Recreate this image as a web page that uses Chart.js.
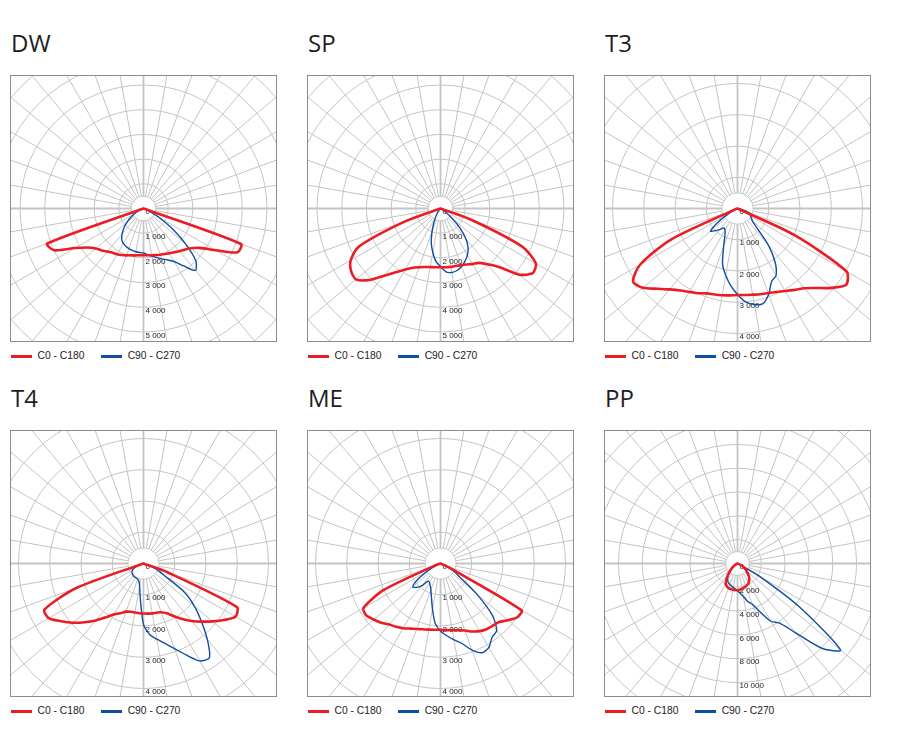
<!DOCTYPE html>
<html>
<head>
<meta charset="utf-8">
<script src="https://cdn.jsdelivr.net/npm/chart.js@4.4.1/dist/chart.umd.min.js"></script>
<style>
  html, body { margin: 0; padding: 0; background: #fff; }
  body { width: 905px; height: 754px; position: relative; overflow: hidden; font-family: "Liberation Sans", Arial, sans-serif; }
  .panel { position: absolute; width: 290px; height: 370px; }
  .title { position: absolute; left: 1px; top: 31px; font: 24px/24px "Open Sans", sans-serif; color: #1e1e1e; }
  .box { position: absolute; left: 0; top: 75px; width: 267px; height: 267px; box-sizing: border-box; border: 1px solid #8c8c8c; }
  .box canvas { display: block; }
  .key { position: absolute; top: 349px; height: 14px; font-size: 10.3px; line-height: 14px; color: #222; white-space: nowrap; }
  .key i { position: absolute; left: 0; top: 5.5px; width: 21px; height: 3px; }
  .key span { position: absolute; left: 27px; top: 0; }
</style>
</head>
<body>
<script>
// gamma angles (deg from nadir) of the stored half-curves; above 90 deg the intensity is 0
const gamma = [0, 5, 10, 15, 20, 25, 30, 35, 40, 45, 50, 55, 60, 65, 70, 75, 80, 85, 90];

// cd values, left half (C180 / C270) and right half (C0 / C90)
const dwC180 = [1890, 1900, 1930, 1960, 2020, 2080, 2140, 2190, 2280, 2400, 2520, 2750, 3200, 4000, 4150, 0, 0, 0, 0];
const dwC0   = [1890, 1900, 1920, 1950, 1990, 2030, 2090, 2160, 2260, 2360, 2500, 2780, 3380, 4200, 4200, 0, 0, 0, 0];
const dwC270 = [1800, 1790, 1780, 1760, 1730, 1690, 1630, 1540, 1350, 1130, 880, 650, 420, 250, 120, 40, 0, 0, 0];
const dwC90  = [1800, 1880, 1960, 2060, 2170, 2300, 2480, 2840, 3270, 3000, 2200, 1400, 750, 300, 100, 20, 0, 0, 0];

const spC180 = [2380, 2390, 2410, 2450, 2530, 2650, 2850, 3150, 3550, 4100, 4470, 4420, 4200, 3650, 1500, 0, 0, 0, 0];
const spC0   = [2380, 2390, 2400, 2410, 2440, 2500, 2600, 2690, 2950, 3350, 4170, 4560, 4460, 3650, 1300, 0, 0, 0, 0];
const spC270 = [2350, 2150, 1800, 1450, 1000, 650, 380, 200, 90, 30, 0, 0, 0, 0, 0, 0, 0, 0, 0];
const spC90  = [2350, 2580, 2630, 2600, 2500, 2350, 2180, 1950, 1600, 1100, 600, 250, 80, 0, 0, 0, 0, 0, 0];

const t3C180 = [2770, 2790, 2820, 2850, 2890, 2990, 3080, 3200, 3380, 3630, 3950, 4080, 3600, 2350, 100, 0, 0, 0, 0];
const t3C0   = [2770, 2780, 2800, 2840, 2880, 2950, 3050, 3180, 3330, 3600, 3950, 4250, 4030, 2000, 0, 0, 0, 0, 0];
const t3C270 = [2750, 2480, 2170, 1850, 1300, 950, 800, 760, 880, 1000, 1130, 750, 300, 50, 0, 0, 0, 0, 0];
const t3C90  = [2750, 3000, 3120, 3150, 2920, 2580, 2470, 2100, 1550, 880, 620, 550, 480, 440, 400, 200, 80, 0, 0];

const t4C180 = [1600, 1600, 1590, 1600, 1640, 1760, 1880, 2100, 2380, 2660, 2950, 3220, 3500, 3500, 2270, 50, 0, 0, 0];
const t4C0   = [1600, 1610, 1620, 1630, 1660, 1760, 1950, 2170, 2400, 2630, 2880, 3150, 3400, 3300, 800, 0, 0, 0, 0];
const t4C270 = [1950, 1150, 720, 580, 540, 520, 515, 515, 510, 490, 470, 450, 400, 300, 150, 0, 0, 0, 0];
const t4C90  = [1950, 2280, 2460, 2650, 2900, 3230, 3600, 3680, 3180, 2620, 2130, 1600, 780, 500, 200, 0, 0, 0, 0];

const meC180 = [2120, 2130, 2150, 2180, 2230, 2300, 2390, 2470, 2550, 2680, 2790, 2900, 2850, 2000, 200, 0, 0, 0, 0];
const meC0   = [2120, 2140, 2170, 2210, 2280, 2400, 2500, 2570, 2600, 2650, 2820, 3000, 3000, 300, 0, 0, 0, 0, 0];
const meC270 = [2160, 1930, 1480, 1120, 900, 780, 700, 690, 920, 1080, 1160, 880, 450, 150, 0, 0, 0, 0, 0];
const meC90  = [2160, 2320, 2480, 2650, 2950, 3150, 3100, 2880, 2800, 2350, 1500, 750, 490, 250, 80, 0, 0, 0, 0];

const ppC180 = [2250, 2240, 2230, 2220, 2200, 2120, 1980, 1620, 1250, 900, 650, 420, 250, 120, 50, 0, 0, 0, 0];
const ppC0   = [2250, 2220, 2170, 2100, 2030, 1970, 1880, 1700, 1520, 1250, 1000, 820, 550, 300, 100, 0, 0, 0, 0];
const ppC270 = [2300, 2150, 2050, 1950, 1880, 1800, 1650, 1450, 1100, 750, 450, 250, 100, 0, 0, 0, 0, 0, 0];
const ppC90  = [2300, 2500, 2800, 3300, 3650, 4500, 5600, 6100, 7600, 10100, 11300, 6300, 2000, 200, 0, 0, 0, 0, 0];

// tick labels down the nadir axis
const ticks5000 = [0, 1000, 2000, 3000, 4000, 5000];
const ticks4000 = [0, 1000, 2000, 3000, 4000];
const ticks10000 = [0, 2000, 4000, 6000, 8000, 10000];

const seriesNames = ['C0 - C180', 'C90 - C270'];

const RED = '#ec1c24';
const BLUE = '#0d4ea3';
const GRID = '#c4c4c4';

const panels = [
  { title: 'DW', red: [dwC180, dwC0], blue: [dwC270, dwC90], ticks: ticks5000, step: 1000, max: 8100 },
  { title: 'SP', red: [spC180, spC0], blue: [spC270, spC90], ticks: ticks5000, step: 1000, max: 8100 },
  { title: 'T3', red: [t3C180, t3C0], blue: [t3C270, t3C90], ticks: ticks4000, step: 1000, max: 6400 },
  { title: 'T4', red: [t4C180, t4C0], blue: [t4C270, t4C90], ticks: ticks4000, step: 1000, max: 6400 },
  { title: 'ME', red: [meC180, meC0], blue: [meC270, meC90], ticks: ticks4000, step: 1000, max: 6400 },
  { title: 'PP', red: [ppC180, ppC0], blue: [ppC270, ppC90], ticks: ticks10000, step: 2000, max: 16800 }
];

// one radar category every 5 degrees, index 0 = nadir
const radarLabels = [];
for (let a = 0; a < 360; a += 5) radarLabels.push(a + '°');

function fullCircle(left, right) {
  let values = radarLabels.map(() => 0);
  gamma.forEach((g, i) => {
    values[i] = left[i];
    if (i > 0) values[radarLabels.length - i] = right[i];
  });
  return values;
}

function fmt(v) {
  return String(v).replace(/\B(?=(\d{3})+(?!\d))/g, ' ');
}

// white hole in the middle + tick labels under the curves
function centerAndLabels(p) {
  return {
    id: 'centerAndLabels',
    beforeDatasetsDraw(chart) {
      const r = chart.scales.r;
      const ctx = chart.ctx;
      ctx.save();
      ctx.fillStyle = '#fff';
      ctx.beginPath();
      ctx.arc(r.xCenter, r.yCenter, r.getDistanceFromCenterForValue(p.step / 2) - 0.6, 0, Math.PI * 2);
      ctx.fill();
      ctx.fillStyle = '#222';
      ctx.font = '8px "Liberation Sans", Arial, sans-serif';
      ctx.textAlign = 'left';
      ctx.textBaseline = 'middle';
      p.ticks.forEach(v => {
        ctx.fillText(fmt(v), r.xCenter + 2, r.yCenter + r.getDistanceFromCenterForValue(v) + 3.5);
      });
      ctx.restore();
    }
  };
}

panels.forEach((p, n) => {
  let col = n % 3, row = Math.floor(n / 3);
  let panel = document.createElement('div');
  panel.className = 'panel';
  panel.style.left = (10 + 297 * col) + 'px';
  panel.style.top = (355 * row) + 'px';
  panel.innerHTML =
    '<div class="title">' + p.title + '</div>' +
    '<div class="box"><canvas width="265" height="265"></canvas></div>' +
    '<div class="key" style="left:0.5px"><i style="background:' + RED + '"></i><span>' + seriesNames[0] + '</span></div>' +
    '<div class="key" style="left:90.7px"><i style="background:' + BLUE + '"></i><span>' + seriesNames[1] + '</span></div>';
  document.body.appendChild(panel);

  let rings = [0, p.step / 2];
  for (let v = p.step; v <= p.max; v += p.step) rings.push(v);

  new Chart(panel.querySelector('canvas'), {
    type: 'radar',
    data: {
      labels: radarLabels,
      datasets: [
        { label: seriesNames[0], data: fullCircle(p.red[0], p.red[1]), borderColor: RED, borderWidth: 2.6 },
        { label: seriesNames[1], data: fullCircle(p.blue[0], p.blue[1]), borderColor: BLUE, borderWidth: 1.4 }
      ]
    },
    options: {
      responsive: false,
      animation: false,
      events: [],
      plugins: {
        legend: { display: false },
        tooltip: { enabled: false }
      },
      elements: {
        point: { radius: 0, hoverRadius: 0 },
        line: { tension: 0.25, fill: false, borderJoinStyle: 'round' }
      },
      scales: {
        r: {
          min: 0,
          max: p.max,
          startAngle: 180,
          ticks: { display: false },
          pointLabels: { display: false },
          grid: { circular: true, color: GRID, lineWidth: 1 },
          angleLines: {
            display: true,
            color: ctx => ctx.index % 2 ? 'transparent' : GRID,
            lineWidth: ctx => ctx.index % 18 ? 1 : 1.8
          },
          afterBuildTicks: scale => {
            scale.ticks = rings.map(v => ({ value: v }));
          },
          afterFit: scale => {
            scale.xCenter = 132.5;
            scale.yCenter = 132.5;
            scale.drawingArea = 200;
          }
        }
      }
    },
    plugins: [centerAndLabels(p)]
  });
});
</script>
</body>
</html>
